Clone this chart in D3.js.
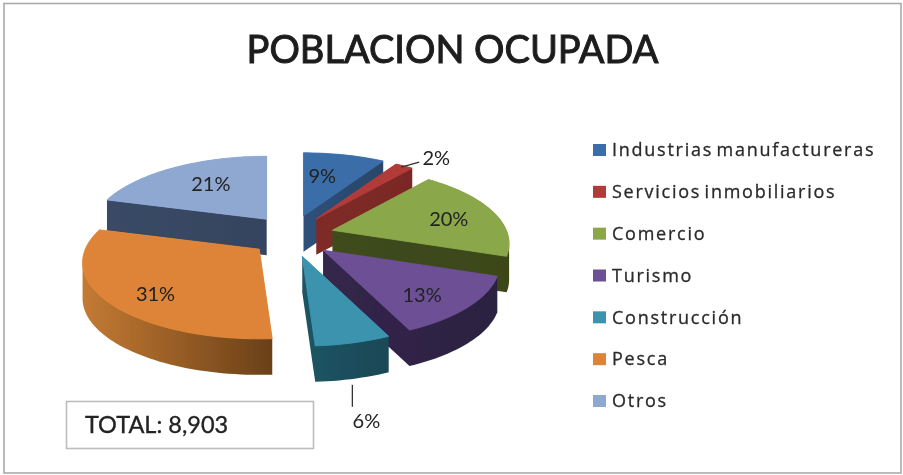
<!DOCTYPE html>
<html><head><meta charset="utf-8">
<script src="https://cdn.jsdelivr.net/npm/d3@7/dist/d3.min.js"></script>
<style>html,body{margin:0;padding:0;background:#fff}svg{display:block}</style>
</head><body><div id="c"></div>
<script>
const categories = ["Industrias manufactureras","Servicios inmobiliarios","Comercio","Turismo","Construcción","Pesca","Otros"];
const values = [9,2,20,13,6,31,21];
const topColors = ["#3b6ea8","#b03a38","#8aa74a","#6d4f96","#3a93ad","#dd8438","#8fa8d2"];
const sideLight = ["#2e5079","#7f2a28","#3f4c1c","#35264c","#1f5563","#c47a33","#3a4a66"];
const sideDark  = ["#2a466a","#7a2826","#3c4719","#2b2040","#1a4756","#6a4018","#35445e"];
const drawOrder = [6,5,0,1,2,3,4];
const labelNudge = [[-11,5],[0,0],[3,2],[1,7],[0,0],[-1,10],[11,2]];
const title = "POBLACION OCUPADA";
const totalLabel = "TOTAL: 8,903";

const W=903,H=475;
const svg=d3.select("#c").append("svg").attr("width",W).attr("height",H);
const defs=svg.append("defs");
defs.append("filter").attr("id","soft").attr("x","-5%").attr("y","-5%").attr("width","110%").attr("height","110%")
  .append("feGaussianBlur").attr("stdDeviation",0.45);

// frame
svg.append("rect").attr("x",4).attr("y",3.5).attr("width",897).attr("height",469.5)
  .attr("fill","#fff").attr("stroke","#aaaaaa").attr("stroke-width",1.6);

const root=svg.append("g").attr("filter","url(#soft)");

root.append("text").attr("x",452.5).attr("y",63).attr("text-anchor","middle")
  .attr("font-family","Lato").attr("font-weight",400).attr("font-size",38)
  .attr("fill","#1d1d1d").attr("stroke","#1d1d1d").attr("stroke-width",1).text(title);

// exploded perspective pie
const cx=292, cy=236, R=174, A=74, b=0.175, explode=42, explodeY=21, depth=36;
const pie=d3.pie().sort(null).value(d=>d)(values);
const proj=(a,r)=>{const u=r*Math.sin(a),v=r*Math.cos(a),s=1+b*v;return [R*u/s,-A*v/s];};
const line=d3.line();

function rimPoints(p){
  const n=Math.max(4,Math.ceil((p.endAngle-p.startAngle)/0.03));
  return d3.range(n+1).map(i=>proj(p.startAngle+(p.endAngle-p.startAngle)*i/n,1));
}

const g=root.append("g");
drawOrder.forEach(i=>{
  const p=pie[i], mid=(p.startAngle+p.endAngle)/2;
  const ox=cx+explode*Math.sin(mid), oy=cy-explodeY*Math.cos(mid);
  const ring=rimPoints(p), poly=[[0,0],...ring].map(q=>[q[0]+ox,q[1]+oy]);
  const xs=poly.map(q=>q[0]);
  const gid="side"+i;
  const gr=defs.append("linearGradient").attr("id",gid).attr("gradientUnits","userSpaceOnUse")
    .attr("x1",d3.min(xs)).attr("x2",d3.max(xs)).attr("y1",0).attr("y2",0);
  gr.append("stop").attr("offset",0).attr("stop-color",sideLight[i]);
  gr.append("stop").attr("offset",1).attr("stop-color",sideDark[i]);
  // silhouette of the extruded sector is the hull of top face and its shifted copy
  const hull=d3.polygonHull(poly.concat(poly.map(q=>[q[0],q[1]+depth])));
  g.append("path").attr("d",line(hull)+"Z").attr("fill",`url(#${gid})`);
  g.append("path").attr("d",line(poly)+"Z").attr("fill",topColors[i])
    .attr("stroke",d3.color(topColors[i]).brighter(0.15)).attr("stroke-width",0.8);
  p.ox=ox;p.oy=oy;p.mid=mid;
});

// data labels
const labelFont="Lato", labelSize=20;
pie.forEach((p,i)=>{
  const c=proj(p.mid,0.7);
  let x=p.ox+c[0]+labelNudge[i][0], y=p.oy+c[1]+labelNudge[i][1];
  if(i===1){
    const e=proj(p.mid,1.0);
    const sx=p.ox+e[0]-3, sy=p.oy+e[1]+1;
    g.append("path").attr("d",line([[sx,sy],[sx+18,sy-5]])).attr("fill","none").attr("stroke","#333").attr("stroke-width",1.3);
    x=sx+35; y=sy-9;
  }
  if(i===4){
    const e=proj(p.mid,1.0);
    const sx=p.ox+e[0]-1, sy=p.oy+e[1]+depth+6;
    g.append("path").attr("d",line([[sx,sy],[sx,sy+22]])).attr("fill","none").attr("stroke","#333").attr("stroke-width",1.3);
    x=sx+14; y=sy+36;
  }
  g.append("text").attr("x",x).attr("y",y).attr("dy","0.35em").attr("text-anchor","middle")
    .attr("font-family",labelFont).attr("font-size",labelSize).attr("fill","#222").text(values[i]+"%");
});

// legend
const ly=d3.scalePoint().domain(categories).range([150,401]);
const leg=root.append("g");
categories.forEach((c,i)=>{
  leg.append("rect").attr("x",593).attr("y",ly(c)-6).attr("width",13).attr("height",12).attr("fill",topColors[i]);
  leg.append("text").attr("x",612).attr("y",ly(c)).attr("dy","0.35em")
    .attr("font-family","Open Sans").attr("font-size",18).attr("fill","#2a2a2a")
    .attr("stroke","#2a2a2a").attr("stroke-width",0.3)
    .attr("letter-spacing",1.75).attr("word-spacing",-3).text(c);
});

// total box
root.append("rect").attr("x",66.5).attr("y",401.5).attr("width",247).attr("height",47)
  .attr("fill","#fff").attr("stroke","#bdbdbd").attr("stroke-width",1.6);
root.append("text").attr("x",85).attr("y",425).attr("dy","0.35em").attr("font-family","Lato")
  .attr("font-size",23.5).attr("fill","#222").attr("stroke","#222").attr("stroke-width",0.35).text(totalLabel);
</script></body></html>
